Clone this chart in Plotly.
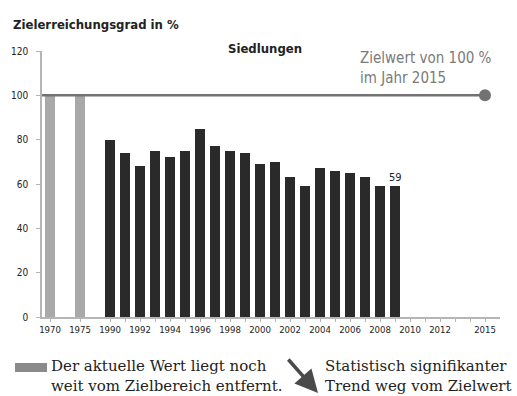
import plotly.graph_objects as go

# Zielerreichungsgrad Siedlungen (%)
years = [1970, 1975] + list(range(1990, 2010))
values = [100, 100, 80, 74, 68, 75, 72, 75, 85, 77, 75, 74,
          69, 70, 63, 59, 67, 66, 65, 63, 59, 59]
gray_years = [1970, 1975]
target_year = 2015
target_value = 100
tick_years = [1970, 1975, 1990, 1992, 1994, 1996, 1998, 2000, 2002,
              2004, 2006, 2008, 2010, 2012, 2015]
y_ticks = [0, 20, 40, 60, 80, 100, 120]

# compressed year axis: 1970 and 1975 sit two slots apart, then one slot per year from 1990
def slot(y):
    if y == 1970:
        return 0
    if y == 1975:
        return 2
    return 4 + (y - 1990)

all_ticks = [1970, 1975] + list(range(1990, 2016))
tickvals = [slot(y) for y in all_ticks]
ticktext = [str(y) if y in tick_years else "" for y in all_ticks]

COND = "DejaVu Sans Condensed, sans-serif"
SERIF = "DejaVu Serif, serif"
GRAY_BAR = "#a9a9a9"
DARK_BAR = "#2a2a2a"
LINE = "#727272"

bar_colors = [GRAY_BAR if y in gray_years else DARK_BAR for y in years]

fig = go.Figure()
fig.add_trace(go.Bar(
    x=[slot(y) for y in years], y=values, width=0.68,
    marker=dict(color=bar_colors, line=dict(width=0)),
    hoverinfo="skip",
))

# target line at 100 % ending in a dot at 2015
fig.add_trace(go.Scatter(
    x=[-0.8, slot(target_year)], y=[target_value, target_value],
    mode="lines", line=dict(color=LINE, width=2.5),
    cliponaxis=False, hoverinfo="skip",
))
fig.add_trace(go.Scatter(
    x=[slot(target_year)], y=[target_value], mode="markers",
    marker=dict(color=LINE, size=12), cliponaxis=False, hoverinfo="skip",
))

# value label on the latest bar
fig.add_annotation(x=slot(years[-1]), y=values[-1], text=str(values[-1]),
                   yshift=9, showarrow=False,
                   font=dict(family=COND, size=11, color="#222"))

fig.update_layout(
    width=517, height=396,
    margin=dict(l=42, r=17, t=51, b=79),
    paper_bgcolor="white", plot_bgcolor="white",
    showlegend=False, bargap=0,
    xaxis=dict(range=[-0.533, 30], tickvals=tickvals, ticktext=ticktext,
               showgrid=False, zeroline=False, showline=True,
               linecolor="#b5b5b5", linewidth=1.5,
               ticks="outside", ticklen=3, tickcolor="#b5b5b5",
               tickfont=dict(family=COND, size=9.5, color="#222")),
    yaxis=dict(range=[0, 120], tickvals=y_ticks, showgrid=False,
               zeroline=False, showline=True, linecolor="#b5b5b5",
               linewidth=1.5, ticks="outside", ticklen=4,
               tickcolor="#b5b5b5", ticklabelstandoff=6,
               tickfont=dict(family=COND, size=10, color="#222")),
)

# paper coordinates from page pixel positions
def px(x, y):
    return (x - 42) / 458, (317 - y) / 266

tx, ty = px(11, 24)
fig.add_annotation(x=tx, y=ty, xref="paper", yref="paper",
                   text="<b>Zielerreichungsgrad in %</b>", showarrow=False,
                   xanchor="left", yanchor="middle",
                   font=dict(family=COND, size=13, color="#222"))

tx, ty = px(265, 48)
fig.add_annotation(x=tx, y=ty, xref="paper", yref="paper",
                   text="<b>Siedlungen</b>", showarrow=False,
                   xanchor="center", yanchor="middle",
                   font=dict(family=COND, size=13, color="#222"))

tx, ty = px(358, 68)
fig.add_annotation(x=tx, y=ty, xref="paper", yref="paper",
                   text="Zielwert von 100 %<br>im Jahr 2015", showarrow=False,
                   xanchor="left", yanchor="middle", align="left",
                   font=dict(family=COND, size=15, color="#7a7a7a"))

# legend entries below the chart
fig.add_shape(type="rect", xref="paper", yref="paper",
              x0=px(15, 0)[0], x1=px(47, 0)[0], y0=px(0, 372)[1], y1=px(0, 363)[1],
              fillcolor="#8a8a8a", line=dict(width=0))
tx, ty = px(49, 376)
fig.add_annotation(x=tx, y=ty, xref="paper", yref="paper",
                   text="Der aktuelle Wert liegt noch<br>weit vom Zielbereich entfernt.",
                   showarrow=False, xanchor="left", yanchor="middle", align="left",
                   font=dict(family=SERIF, size=15, color="#222"))

ax1, ay1 = px(318, 393)
fig.add_annotation(x=ax1, y=ay1, xref="paper", yref="paper",
                   ax=-31, ay=-35, axref="pixel", ayref="pixel",
                   text="", showarrow=True, arrowhead=2, arrowsize=1.3,
                   arrowwidth=3.5, arrowcolor="#4a4a4a")
tx, ty = px(323, 376)
fig.add_annotation(x=tx, y=ty, xref="paper", yref="paper",
                   text="Statistisch signifikanter<br>Trend weg vom Zielwert",
                   showarrow=False, xanchor="left", yanchor="middle", align="left",
                   font=dict(family=SERIF, size=15, color="#222"))

fig.write_html("out.html")
